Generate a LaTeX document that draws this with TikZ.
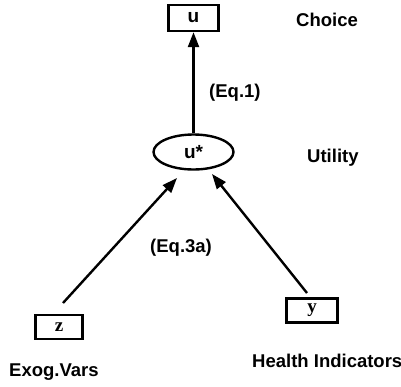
\documentclass[tikz,border=0pt]{standalone}
\usepackage{fontspec}
\setmainfont{Liberation Sans}
\newfontfamily\hv{Liberation Sans}
\newfontfamily\tms{Liberation Serif}
\usetikzlibrary{shapes.geometric,arrows.meta}
\tikzset{
  box/.style={draw,line width=2.4pt,rectangle,inner sep=0pt,font=\tms\bfseries\fontsize{19}{20}\selectfont},
  oval/.style={draw,line width=2.4pt,ellipse,inner sep=0pt,minimum width=80pt,minimum height=35pt,font=\hv\bfseries\fontsize{19}{20}\selectfont},
  lbl/.style={anchor=base west,inner sep=0pt,font=\hv\bfseries\fontsize{18.5}{20}\selectfont},
  arr/.style={line width=2.4pt,-{Triangle[length=15pt,width=11pt]}}
}
\begin{document}
\begin{tikzpicture}[x=1pt,y=-1pt]
\useasboundingbox (0,0) rectangle (401,386);
\node[box,minimum width=50pt,minimum height=26pt,font=\hv\bfseries\fontsize{19}{20}\selectfont] (u) at (193.5,18) {u};
\node[oval] (us) at (193.5,152) {u*};
\node[box,minimum width=47pt,minimum height=24pt] (z) at (59,327) {z};
\node[box,minimum width=51pt,minimum height=24pt] (y) at (312,310.5) {y};
\coordinate (zs) at (63,303);
\coordinate (zt) at (177,178);
\coordinate (ys) at (307,293);
\coordinate (yt) at (212,174);
\draw[arr] (us.north) -- (u.south);
\draw[arr] (zs) -- (zt);
\draw[arr] (ys) -- (yt);
\node[lbl] (choice) at (296,26) {Choice};
\node[lbl] (utility) at (307,162) {Utility};
\node[lbl] (eq1) at (209,97) {(Eq.1)};
\node[lbl] (eq3) at (150,252) {(Eq.3a)};
\node[lbl] (exog) at (9,376.5) {Exog.Vars};
\node[lbl] (health) at (252,367) {Health Indicators};
\end{tikzpicture}
\end{document}
